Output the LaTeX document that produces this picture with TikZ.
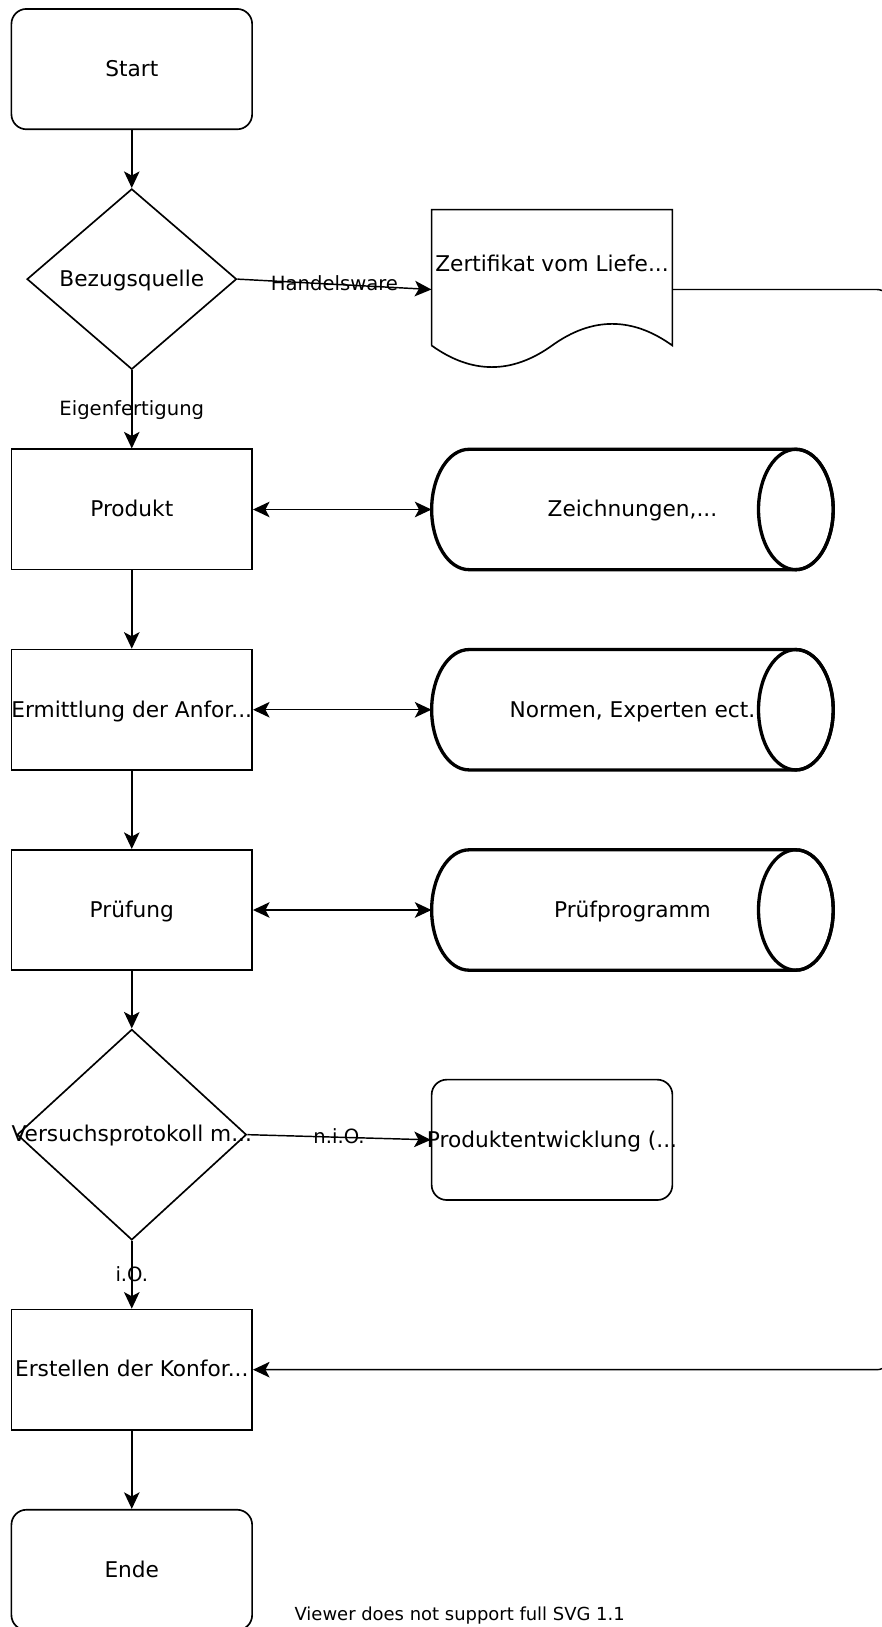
\documentclass[tikz,border=0pt]{standalone}
\usepackage{fontspec}
\setmainfont{DejaVu Sans}
\usetikzlibrary{shapes.geometric,arrows.meta}
\begin{document}
\begin{tikzpicture}[x=1pt,y=-1pt,
  txt/.style={font=\fontsize{20.9}{25}\selectfont, inner sep=0pt, text height=18.8pt, text depth=4.8pt},
  says/.style={label={[txt]center:#1}},
  base/.style={draw=black, line width=1.6pt, inner sep=0pt, minimum width=232pt, minimum height=116pt},
  term/.style={base, rounded corners=14.5pt},
  proc/.style={base},
  dec/.style={diamond, draw=black, line width=1.6pt, inner sep=0pt, aspect=1},
  ghost/.style={inner sep=0pt, minimum width=232pt, minimum height=116pt},
  cylbox/.style={inner sep=0pt, minimum width=387pt, minimum height=116pt, font=\fontsize{20.9}{25}\selectfont, text height=18.8pt, text depth=4.8pt},
  cyl/.style={draw=black, line width=3.2pt},
  lbl/.style={font=\fontsize{18.9}{22}\selectfont, inner sep=0pt, text height=17pt, text depth=4.3pt},
  conn/.style={line width=1.4pt, -{Stealth[length=16pt,width=15pt,inset=4pt]}},
  both/.style={line width=1.4pt, {Stealth[length=16pt,width=15pt,inset=4pt]}-{Stealth[length=16pt,width=15pt,inset=4pt]}},
]
\useasboundingbox (0,0) rectangle (850,1568);
\clip (0,0) rectangle (850,1568);

% left column
\node[term, says=Start] (start) at (127,66.6) {};
\node[dec, minimum width=202pt, minimum height=174pt, says=Bezugsquelle] (bez) at (127,269) {};
\node[proc, says=Produkt] (prod) at (127,491) {};
\node[proc, says={Ermittlung der Anfor...}] (erm) at (127,684) {};
\node[proc, says={Prüfung}] (pruef) at (127,877) {};
\node[dec, minimum width=221pt, minimum height=203pt, says={Versuchsprotokoll m...}] (vers) at (127,1093.5) {};
\node[proc, says={Erstellen der Konfor...}] (erst) at (127,1320) {};
\node[term, says=Ende] (ende) at (127,1513) {};

% document shape
\node[ghost, minimum height=154pt, label={[txt,yshift=24pt]center:Zertifikat vom Liefe...}] (doc) at (532,279) {};
\draw[line width=1.6pt] (416,333) -- (416,202) -- (648,202) -- (648,333)
  .. controls (609.3,305.2) and (570.7,305.2) .. (532,333)
  .. controls (493.3,360.7) and (454.7,360.7) .. (416,333);

% cylinders
\node[cylbox] (zei) at (609.5,491) {Zeichnungen,...};
\node[cylbox] (norm) at (609.5,684) {Normen, Experten ect.};
\node[cylbox] (prog) at (609.5,877) {Prüfprogramm};
\foreach \cy in {491,684,877}{
  \draw[cyl] (452,\cy-58) -- (767,\cy-58) arc[start angle=90, end angle=-90, x radius=36pt, y radius=58pt]
     -- (452,\cy+58) arc[start angle=270, end angle=90, x radius=36pt, y radius=58pt] -- cycle;
  \draw[cyl] (767,\cy) ellipse[x radius=36pt, y radius=58pt];
}

% process box right
\node[term, says={Produktentwicklung (...}] (pe) at (532,1098.5) {};

% connectors
\draw[conn] (start) -- (bez);
\draw[conn] (bez.east) -- node[lbl]{Handelsware} (doc.west);
\draw[conn] (bez) -- node[lbl]{Eigenfertigung} (prod);
\draw[both] (prod) -- (zei.west);
\draw[conn] (prod) -- (erm);
\draw[both] (erm) -- (norm.west);
\draw[conn] (erm) -- (pruef);
\draw[both] (pruef) -- (prog.west);
\draw[conn] (pruef) -- (vers);
\draw[conn] (vers.east) -- node[lbl]{n.i.O.} (pe.west);
\draw[conn] (vers) -- node[lbl]{i.O.} (erst);
\draw[conn] (erst) -- (ende);
\coordinate (rtop) at (858,279);
\coordinate (rbot) at (858,1320);
\draw[conn, rounded corners=13pt] (doc.east) -- (rtop) -- (rbot) -- (erst.east);

\node[font=\fontsize{17.3}{20}\selectfont, inner sep=0pt] (foot) at (443,1556.5) {Viewer does not support full SVG 1.1};
\end{tikzpicture}
\end{document}
